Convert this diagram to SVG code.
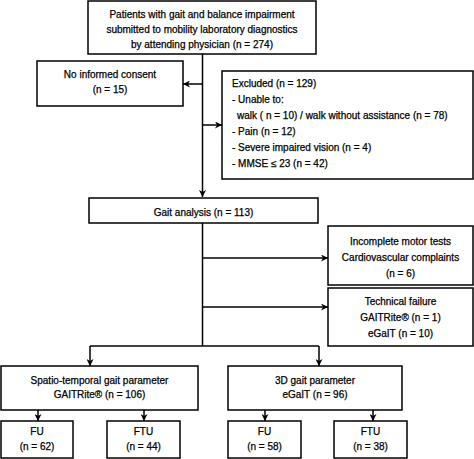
<svg xmlns="http://www.w3.org/2000/svg" width="474" height="459" viewBox="0 0 474 459">
<style>
rect{fill:#fff;stroke:#000;stroke-width:1.5}
text{font-family:"Liberation Sans",Arial,sans-serif;font-size:10px;fill:#000;stroke:#000;stroke-width:0.25}
.c{text-anchor:middle}
.ln{stroke:#000;stroke-width:1.5;fill:none}
</style>
<defs>
<marker id="ah" viewBox="0 0 10 10" refX="10" refY="5" markerWidth="7" markerHeight="7" markerUnits="userSpaceOnUse" orient="auto">
<path d="M0,0 L10,5 L0,10 L3,5 Z" fill="#000"/>
</marker>
</defs>
<g id="connectors">
<path class="ln" d="M202.5,54 V197" marker-end="url(#ah)"/>
<path class="ln" d="M202.5,84 H183" marker-end="url(#ah)"/>
<path class="ln" d="M202.5,125 H222" marker-end="url(#ah)"/>
<path class="ln" d="M202.5,223 V346"/>
<path class="ln" d="M202.5,258 H328" marker-end="url(#ah)"/>
<path class="ln" d="M202.5,307 H328" marker-end="url(#ah)"/>
<path class="ln" d="M90,346 H319"/>
<path class="ln" d="M90,346 V366" marker-end="url(#ah)"/>
<path class="ln" d="M319,346 V366" marker-end="url(#ah)"/>
<path class="ln" d="M38,410 V421" marker-end="url(#ah)"/>
<path class="ln" d="M144,410 V421" marker-end="url(#ah)"/>
<path class="ln" d="M265,410 V421" marker-end="url(#ah)"/>
<path class="ln" d="M373,410 V421" marker-end="url(#ah)"/>
</g>
<g id="n-patients">
<rect x="88" y="1" width="228" height="53"/>
<text class="c" x="202" y="18">Patients with gait and balance impairment</text>
<text class="c" x="202" y="33">submitted to mobility laboratory diagnostics</text>
<text class="c" x="202" y="48">by attending physician (n = 274)</text>
</g>
<g id="n-consent">
<rect x="37" y="61" width="146" height="45"/>
<text class="c" x="110" y="78">No informed consent</text>
<text class="c" x="110" y="93">(n = 15)</text>
</g>
<g id="n-excluded">
<rect x="222" y="71" width="251" height="108"/>
<text x="232" y="87">Excluded (n = 129)</text>
<text x="232" y="103">- Unable to:</text>
<text x="237" y="119">walk ( n = 10) / walk without assistance (n = 78)</text>
<text x="232" y="135">- Pain (n = 12)</text>
<text x="232" y="151">- Severe impaired vision (n = 4)</text>
<text x="232" y="167">- MMSE ≤ 23 (n = 42)</text>
</g>
<g id="n-gait">
<rect x="89" y="198" width="229" height="25"/>
<text class="c" x="203.5" y="215.5">Gait analysis (n = 113)</text>
</g>
<g id="n-incomplete">
<rect x="328" y="226" width="145" height="59"/>
<text class="c" x="400.5" y="244.5">Incomplete motor tests</text>
<text class="c" x="400.5" y="260.5">Cardiovascular complaints</text>
<text class="c" x="400.5" y="276.5">(n = 6)</text>
</g>
<g id="n-technical">
<rect x="328" y="288" width="145" height="58"/>
<text class="c" x="400.5" y="304.5">Technical failure</text>
<text class="c" x="400.5" y="320.5">GAITRite® (n = 1)</text>
<text class="c" x="400.5" y="336.5">eGaIT (n = 10)</text>
</g>
<g id="n-spatio">
<rect x="1" y="366" width="197" height="44"/>
<text class="c" x="99.5" y="383.5">Spatio-temporal gait parameter</text>
<text class="c" x="99.5" y="397.5">GAITRite® (n = 106)</text>
</g>
<g id="n-3d">
<rect x="228" y="366" width="174" height="44"/>
<text class="c" x="315" y="383.5">3D gait parameter</text>
<text class="c" x="315" y="397.5">eGaIT (n = 96)</text>
</g>
<g id="n-fu1">
<rect x="1" y="421" width="72" height="37"/>
<text class="c" x="37" y="434.5">FU</text>
<text class="c" x="37" y="450">(n = 62)</text>
</g>
<g id="n-ftu1">
<rect x="107" y="421" width="73" height="37"/>
<text class="c" x="143.5" y="434.5">FTU</text>
<text class="c" x="143.5" y="450">(n = 44)</text>
</g>
<g id="n-fu2">
<rect x="228" y="421" width="73" height="37"/>
<text class="c" x="264.5" y="434.5">FU</text>
<text class="c" x="264.5" y="450">(n = 58)</text>
</g>
<g id="n-ftu2">
<rect x="334" y="421" width="73" height="37"/>
<text class="c" x="370.5" y="434.5">FTU</text>
<text class="c" x="370.5" y="450">(n = 38)</text>
</g>
</svg>
